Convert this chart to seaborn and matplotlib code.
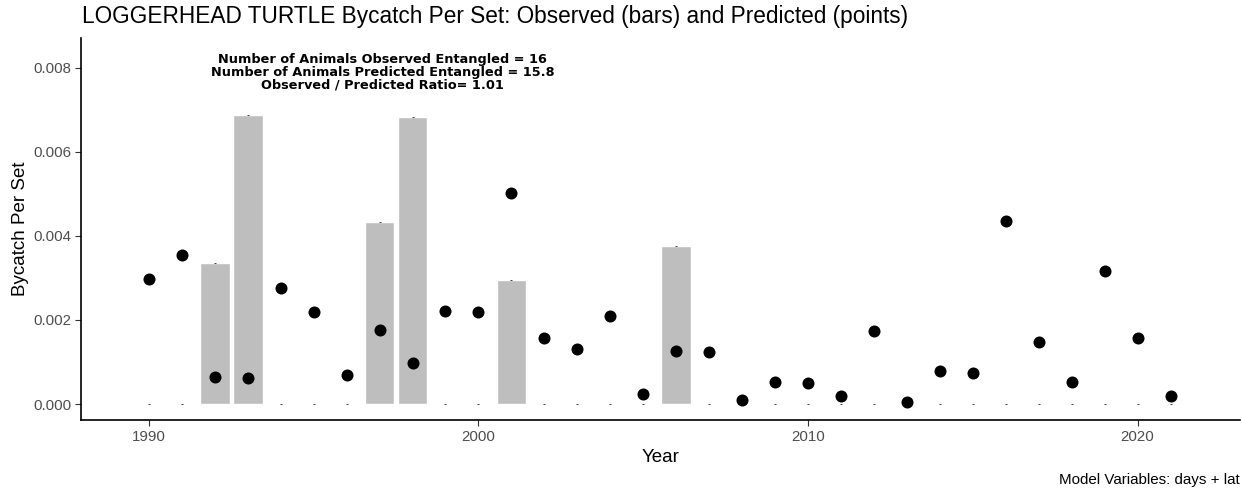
import numpy as np
import pandas as pd
import seaborn as sns
from matplotlib import pyplot as plt

# observed (bars) and predicted (points) bycatch per set by year
years = list(range(1990, 2022))
observed = [0, 0, 0.00336, 0.00687, 0, 0, 0, 0.00434, 0.00683, 0, 0, 0.00295,
            0, 0, 0, 0, 0.00375, 0, 0, 0, 0, 0, 0, 0, 0, 0, 0, 0, 0, 0, 0, 0]
predicted = [0.00297, 0.00354, 0.00064, 0.00063, 0.00276, 0.00219, 0.00069, 0.00176,
             0.00097, 0.00222, 0.00219, 0.00502, 0.00157, 0.00131, 0.00209, 0.00024,
             0.00126, 0.00124, 0.00010, 0.00052, 0.00051, 0.00018, 0.00174, 0.00004,
             0.00078, 0.00074, 0.00436, 0.00148, 0.00052, 0.00317, 0.00157, 0.00019]

df = pd.DataFrame({'Year': years, 'Observed': observed, 'Predicted': predicted})

sns.set_theme(style='white')
plt.rcParams['font.family'] = ['Liberation Sans', 'DejaVu Sans']

fig = plt.figure(figsize=(12.42, 4.9), dpi=100)
ax = fig.add_axes([0.0652, 0.1429, 0.933, 0.7795])

sns.barplot(data=df, x='Year', y='Observed', native_scale=True, width=0.9,
            color='#bebebe', saturation=1, errorbar=None, ax=ax)
# tiny marks at the observed values (zero-length error bars in the original)
ax.scatter(df['Year'], df['Observed'], marker='_', s=2, color='#222222',
           linewidths=0.6, zorder=3)
sns.scatterplot(data=df, x='Year', y='Predicted', color='black', s=75,
                edgecolor='black', linewidth=0, zorder=4, ax=ax)

ax.set_xlim(1987.94, 2023.1)
ax.set_ylim(-0.00038, 0.00871)
ax.set_xticks([1990, 2000, 2010, 2020])
ax.set_yticks([0, 0.002, 0.004, 0.006, 0.008])
ax.set_yticklabels(['0.000', '0.002', '0.004', '0.006', '0.008'])
ax.tick_params(axis='both', labelsize=10.8, labelcolor='#4d4d4d', length=4,
               width=0.8, color='#333333', left=True, bottom=True, pad=3)
for side in ['top', 'right']:
    ax.spines[side].set_visible(False)
for side in ['left', 'bottom']:
    ax.spines[side].set_color('black')
    ax.spines[side].set_linewidth(1.2)

ax.set_xlabel('Year', fontsize=13.5, color='black', labelpad=4)
ax.set_ylabel('Bycatch Per Set', fontsize=13.5, color='black', labelpad=3)

ax.text(0.26, 0.96, 'Number of Animals Observed Entangled = 16\n'
        'Number of Animals Predicted Entangled = 15.8\n'
        'Observed / Predicted Ratio= 1.01',
        transform=ax.transAxes, ha='center', va='top', fontsize=9.3,
        family=['DejaVu Sans'], fontweight='bold', linespacing=0.95, color='black')

fig.text(0.066, 0.967, 'LOGGERHEAD TURTLE Bycatch Per Set: Observed (bars) and Predicted (points)',
         fontsize=16.3, ha='left', va='center', color='black')
fig.text(0.998, 0.02, 'Model Variables: days + lat', fontsize=10.9, ha='right',
         va='center', color='black')

fig.savefig('out.png', dpi=100)
